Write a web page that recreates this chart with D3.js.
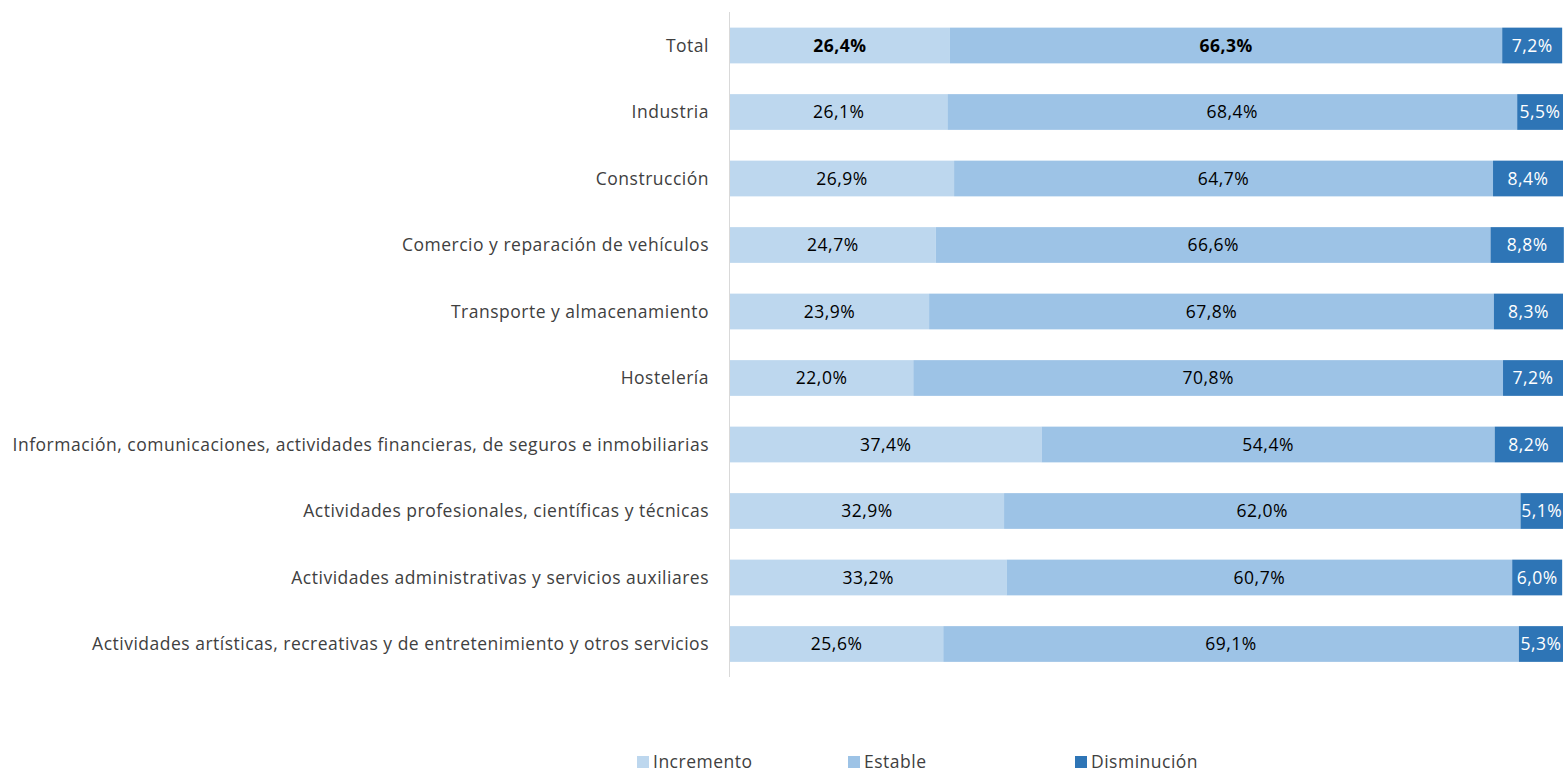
<!DOCTYPE html>
<html>
<head>
<meta charset="utf-8">
<script src="https://cdn.jsdelivr.net/npm/d3@7"></script>
<style>
  body { margin: 0; background: #fff; }
  text { font-family: "Open Sans", "Noto Sans", "DejaVu Sans", sans-serif; letter-spacing: 0.5px; }
</style>
</head>
<body>
<svg id="chart" width="1564" height="772"></svg>
<script>
const categories = [
  "Total",
  "Industria",
  "Construcción",
  "Comercio y reparación de vehículos",
  "Transporte y almacenamiento",
  "Hostelería",
  "Información, comunicaciones, actividades financieras, de seguros e inmobiliarias",
  "Actividades profesionales, científicas y técnicas",
  "Actividades administrativas y servicios auxiliares",
  "Actividades artísticas, recreativas y de entretenimiento y otros servicios"
];
const seriesNames = ["Incremento", "Estable", "Disminución"];
const incremento = [26.4, 26.1, 26.9, 24.7, 23.9, 22.0, 37.4, 32.9, 33.2, 25.6];
const estable = [66.3, 68.4, 64.7, 66.6, 67.8, 70.8, 54.4, 62.0, 60.7, 69.1];
const disminucion = [7.2, 5.5, 8.4, 8.8, 8.3, 7.2, 8.2, 5.1, 6.0, 5.3];
const colors = ["#BDD7EE", "#9DC3E6", "#2E75B6"];
const labelColors = ["#000000", "#000000", "#FFFFFF"];

const table = categories.map((c, i) => ({
  cat: c, Incremento: incremento[i], Estable: estable[i], "Disminución": disminucion[i]
}));
const stacked = d3.stack().keys(seriesNames)(table);

const svg = d3.select("#chart");
const x0 = 730, x1 = 1563, yTop = 12, yBottom = 677;
const fontSize = 17.5;

const x = d3.scaleLinear().domain([0, 100]).range([x0, x1]);
const y = d3.scaleBand().domain(categories).range([yTop, yBottom]).paddingInner(0.47).paddingOuter(0.235);

const fmt = v => v.toFixed(1).replace(".", ",") + "%";

// bars
stacked.forEach((layer, si) => {
  const g = svg.append("g");
  g.selectAll("rect").data(layer).enter().append("rect")
    .attr("x", d => x(d[0]))
    .attr("y", d => y(d.data.cat))
    .attr("width", d => x(d[1]) - x(d[0]))
    .attr("height", y.bandwidth() + 0.5)
    .attr("fill", colors[si]);
  g.selectAll("text").data(layer).enter().append("text")
    .attr("x", d => (x(d[0]) + x(d[1])) / 2)
    .attr("y", d => y(d.data.cat) + y.bandwidth() / 2)
    .attr("dy", "0.36em")
    .attr("text-anchor", "middle")
    .attr("font-size", fontSize)
    .attr("font-weight", (d, i) => (i === 0 && si < 2) ? "bold" : "normal")
    .attr("fill", labelColors[si])
    .text(d => fmt(d[1] - d[0]));
});

// category axis
const axis = svg.append("g").attr("transform", `translate(${x0},0)`)
  .call(d3.axisLeft(y).tickSize(0).tickPadding(21));
axis.select(".domain").remove();
axis.selectAll("text").attr("font-size", fontSize).attr("fill", "#404040")
  .attr("dy", "0.36em")
  .style("font-family", '"Open Sans", "Noto Sans", "DejaVu Sans", sans-serif');
svg.append("line").attr("x1", x0 - 0.5).attr("x2", x0 - 0.5)
  .attr("y1", yTop).attr("y2", yBottom)
  .attr("stroke", "#D9D9D9").attr("stroke-width", 1);

// legend
const legendX = [637, 848, 1075];
const lg = svg.append("g");
seriesNames.forEach((s, i) => {
  lg.append("rect").attr("x", legendX[i]).attr("y", 756).attr("width", 12).attr("height", 12).attr("fill", colors[i]);
  lg.append("text").attr("x", legendX[i] + 16).attr("y", 762).attr("dy", "0.36em")
    .attr("font-size", fontSize).attr("fill", "#404040").text(s);
});
</script>
</body>
</html>
